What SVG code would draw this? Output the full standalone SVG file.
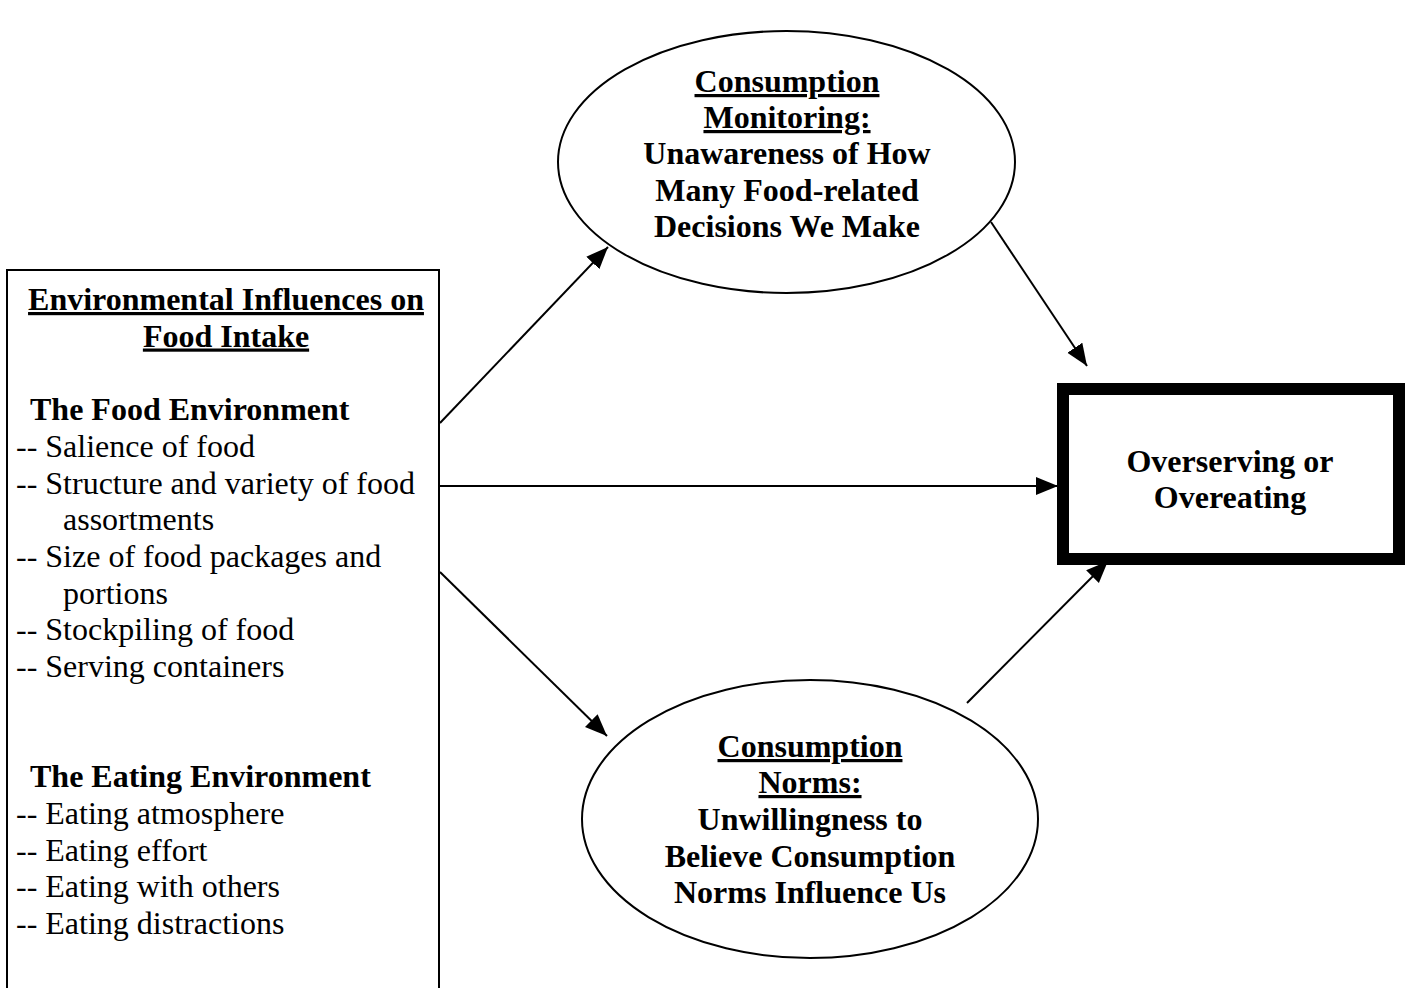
<svg xmlns="http://www.w3.org/2000/svg" width="1406" height="988" viewBox="0 0 1406 988">
<defs>
<marker id="ah" markerUnits="userSpaceOnUse" markerWidth="24" markerHeight="20" refX="22" refY="9" orient="auto">
<path d="M0,0 L22,9 L0,18 Z" fill="#000"/>
</marker>
<style>
text{font-family:"Liberation Serif","Times New Roman",serif;font-size:32px;fill:#000}
.b{font-weight:bold}
.c{text-anchor:middle}
.u{text-decoration:underline}
.shape{fill:#fff;stroke:#000;stroke-width:2}
.edge{stroke:#000;stroke-width:2;fill:none;marker-end:url(#ah)}
</style>
</defs>
<rect width="1406" height="988" fill="#fff"/>
<g id="environment">
<rect class="shape" x="7" y="270" width="432" height="740"/>
<text class="b c u" x="226" y="310">Environmental Influences on</text>
<text class="b c u" x="226" y="346.5">Food Intake</text>
<text class="b" x="30" y="420">The Food Environment</text>
<text x="16" y="457">-- Salience of food</text>
<text x="16" y="493.5">-- Structure and variety of food</text>
<text x="63" y="530">assortments</text>
<text x="16" y="567">-- Size of food packages and</text>
<text x="63" y="603.5">portions</text>
<text x="16" y="640">-- Stockpiling of food</text>
<text x="16" y="677">-- Serving containers</text>
<text class="b" x="30" y="787">The Eating Environment</text>
<text x="16" y="824">-- Eating atmosphere</text>
<text x="16" y="860.5">-- Eating effort</text>
<text x="16" y="897">-- Eating with others</text>
<text x="16" y="934">-- Eating distractions</text>
</g>
<g id="monitoring">
<ellipse class="shape" cx="786.5" cy="162" rx="228.5" ry="131"/>
<text class="b c u" x="787" y="92">Consumption</text>
<text class="b c u" x="787" y="128">Monitoring:</text>
<text class="b c" x="787" y="164">Unawareness of How</text>
<text class="b c" x="787" y="200.5">Many Food-related</text>
<text class="b c" x="787" y="237">Decisions We Make</text>
</g>
<g id="norms">
<ellipse class="shape" cx="810" cy="819" rx="228" ry="139"/>
<text class="b c u" x="810" y="757">Consumption</text>
<text class="b c u" x="810" y="793">Norms:</text>
<text class="b c" x="810" y="830">Unwillingness to</text>
<text class="b c" x="810" y="866.5">Believe Consumption</text>
<text class="b c" x="810" y="903">Norms Influence Us</text>
</g>
<g id="outcome">
<rect x="1063" y="389" width="336" height="170" fill="#fff" stroke="#000" stroke-width="12"/>
<text class="b c" x="1230" y="472">Overserving or</text>
<text class="b c" x="1230" y="508">Overeating</text>
</g>
<g id="connectors">
<line class="edge" x1="440" y1="423" x2="608" y2="247"/>
<line class="edge" x1="440" y1="486" x2="1058" y2="486"/>
<line class="edge" x1="440" y1="572" x2="607" y2="736"/>
<line class="edge" x1="991" y1="222" x2="1087" y2="366"/>
<line class="edge" x1="967" y1="703" x2="1108" y2="561"/>
</g>
</svg>
